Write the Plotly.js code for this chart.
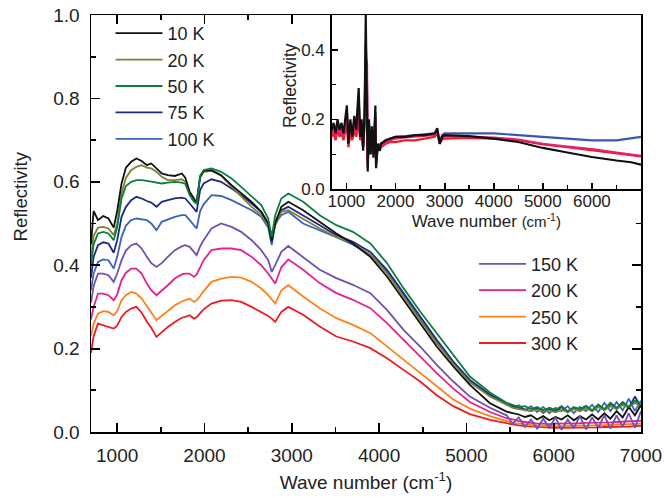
<!DOCTYPE html>
<html>
<head>
<meta charset="utf-8">
<script src="https://cdn.plot.ly/plotly-3.0.1.min.js"></script>
<style>html,body{margin:0;padding:0;background:#fff;}#chart{width:664px;height:498px;}</style>
</head>
<body>
<div id="chart"></div>
<script>
// Main panel: wave number grid (cm^-1)
const wnMain = [700, 730, 780, 840, 900, 960, 1000, 1050, 1100, 1160, 1220, 1280, 1340, 1390, 1450, 1510, 1580, 1660, 1740, 1780, 1830, 1880, 1910, 1950, 1990, 2080, 2190, 2310, 2420, 2540, 2650, 2730, 2770, 2810, 2880, 2960, 3130, 3320, 3510, 3700, 3900, 4090, 4280, 4470, 4660, 4850, 5040, 5270,
  5460, 5530, 5600, 5670, 5740, 5810, 5880, 5950, 6020, 6090, 6160, 6230, 6300, 6370, 6440, 6510, 6580, 6650, 6720, 6790, 6860, 6930, 7000];

const r10K  = [0.45, 0.53, 0.508, 0.518, 0.512, 0.49, 0.53, 0.596, 0.634, 0.648, 0.656, 0.65, 0.64, 0.644, 0.632, 0.62, 0.616, 0.614, 0.62, 0.61, 0.576, 0.56, 0.55, 0.612, 0.626, 0.628, 0.616, 0.592, 0.572, 0.552, 0.528, 0.50, 0.46, 0.50, 0.54, 0.552, 0.532, 0.504, 0.476, 0.452, 0.42, 0.373, 0.317, 0.261, 0.205, 0.157, 0.113, 0.069,
  0.049, 0.045, 0.042, 0.036, 0.04, 0.03, 0.038, 0.028, 0.036, 0.03, 0.04, 0.028, 0.038, 0.03, 0.042, 0.03, 0.045, 0.032, 0.05, 0.035, 0.06, 0.04, 0.065];
const r20K  = [0.42, 0.47, 0.49, 0.492, 0.488, 0.472, 0.50, 0.572, 0.61, 0.628, 0.636, 0.64, 0.634, 0.632, 0.624, 0.612, 0.604, 0.604, 0.606, 0.60, 0.572, 0.556, 0.552, 0.61, 0.624, 0.626, 0.615, 0.588, 0.565, 0.54, 0.52, 0.496, 0.464, 0.495, 0.528, 0.532, 0.512, 0.488, 0.468, 0.452, 0.425, 0.381, 0.325, 0.269, 0.213, 0.163, 0.119, 0.085,
  0.065, 0.058, 0.055, 0.052, 0.05, 0.054, 0.048, 0.052, 0.047, 0.053, 0.048, 0.055, 0.05, 0.057, 0.05, 0.06, 0.052, 0.062, 0.055, 0.065, 0.058, 0.07, 0.06];
const r50K  = [0.40, 0.45, 0.476, 0.48, 0.476, 0.46, 0.49, 0.56, 0.59, 0.60, 0.604, 0.604, 0.602, 0.60, 0.598, 0.596, 0.598, 0.60, 0.598, 0.595, 0.568, 0.552, 0.548, 0.615, 0.628, 0.632, 0.624, 0.608, 0.588, 0.564, 0.544, 0.512, 0.468, 0.52, 0.56, 0.572, 0.552, 0.52, 0.496, 0.48, 0.452, 0.405, 0.345, 0.289, 0.237, 0.185, 0.133, 0.095,
  0.07, 0.065, 0.06, 0.062, 0.055, 0.06, 0.052, 0.058, 0.053, 0.062, 0.05, 0.06, 0.055, 0.063, 0.052, 0.066, 0.055, 0.07, 0.058, 0.072, 0.06, 0.075, 0.065];
const r75K  = [0.37, 0.42, 0.448, 0.455, 0.452, 0.43, 0.46, 0.516, 0.54, 0.556, 0.564, 0.56, 0.554, 0.55, 0.54, 0.552, 0.556, 0.56, 0.562, 0.56, 0.548, 0.535, 0.528, 0.58, 0.596, 0.606, 0.60, 0.584, 0.568, 0.548, 0.528, 0.50, 0.456, 0.505, 0.532, 0.54, 0.52, 0.496, 0.472, 0.456, 0.432, 0.389, 0.333, 0.277, 0.221, 0.169, 0.125, 0.09,
  0.068, 0.062, 0.058, 0.055, 0.05, 0.058, 0.046, 0.055, 0.05, 0.06, 0.047, 0.058, 0.05, 0.062, 0.05, 0.065, 0.052, 0.068, 0.055, 0.07, 0.058, 0.085, 0.06];
const r100K = [0.34, 0.38, 0.408, 0.414, 0.412, 0.392, 0.42, 0.468, 0.495, 0.508, 0.512, 0.51, 0.508, 0.50, 0.484, 0.504, 0.51, 0.516, 0.52, 0.52, 0.508, 0.495, 0.488, 0.53, 0.546, 0.568, 0.566, 0.556, 0.544, 0.532, 0.516, 0.49, 0.448, 0.50, 0.52, 0.528, 0.50, 0.484, 0.467, 0.449, 0.425, 0.385, 0.329, 0.273, 0.217, 0.165, 0.121, 0.088,
  0.066, 0.06, 0.064, 0.052, 0.062, 0.048, 0.06, 0.045, 0.058, 0.05, 0.062, 0.045, 0.06, 0.05, 0.065, 0.048, 0.07, 0.05, 0.072, 0.052, 0.08, 0.05, 0.075];
const r150K = [0.31, 0.35, 0.38, 0.38, 0.376, 0.36, 0.38, 0.412, 0.435, 0.448, 0.452, 0.44, 0.42, 0.405, 0.396, 0.405, 0.42, 0.436, 0.445, 0.448, 0.444, 0.432, 0.424, 0.445, 0.46, 0.488, 0.50, 0.492, 0.48, 0.46, 0.436, 0.412, 0.384, 0.40, 0.432, 0.446, 0.42, 0.389, 0.369, 0.353, 0.333, 0.293, 0.245, 0.205, 0.161, 0.121, 0.085, 0.058,
  0.04, 0.02, 0.035, 0.012, 0.03, 0.008, 0.032, 0.01, 0.035, 0.005, 0.03, 0.01, 0.038, 0.006, 0.035, 0.01, 0.04, 0.008, 0.04, 0.012, 0.045, 0.01, 0.05];
const r200K = [0.27, 0.30, 0.332, 0.332, 0.328, 0.316, 0.33, 0.364, 0.382, 0.392, 0.392, 0.38, 0.356, 0.34, 0.328, 0.338, 0.352, 0.368, 0.378, 0.38, 0.38, 0.372, 0.378, 0.395, 0.412, 0.436, 0.44, 0.44, 0.436, 0.42, 0.40, 0.38, 0.368, 0.356, 0.395, 0.414, 0.389, 0.357, 0.333, 0.317, 0.297, 0.261, 0.221, 0.181, 0.141, 0.104, 0.072, 0.048,
  0.033, 0.03, 0.026, 0.024, 0.022, 0.02, 0.02, 0.019, 0.02, 0.02, 0.021, 0.02, 0.021, 0.022, 0.022, 0.022, 0.023, 0.023, 0.024, 0.025, 0.025, 0.026, 0.027];
const r250K = [0.23, 0.26, 0.284, 0.29, 0.288, 0.28, 0.29, 0.316, 0.328, 0.336, 0.332, 0.32, 0.302, 0.285, 0.268, 0.278, 0.29, 0.304, 0.313, 0.316, 0.32, 0.312, 0.316, 0.326, 0.338, 0.36, 0.368, 0.372, 0.37, 0.36, 0.344, 0.328, 0.318, 0.308, 0.34, 0.352, 0.325, 0.297, 0.273, 0.257, 0.237, 0.205, 0.173, 0.141, 0.109, 0.078, 0.056, 0.038,
  0.026, 0.022, 0.02, 0.018, 0.016, 0.015, 0.015, 0.014, 0.014, 0.014, 0.015, 0.015, 0.015, 0.016, 0.016, 0.016, 0.017, 0.017, 0.018, 0.018, 0.019, 0.019, 0.02];
const r300K = [0.19, 0.23, 0.26, 0.256, 0.252, 0.248, 0.255, 0.276, 0.288, 0.296, 0.30, 0.286, 0.265, 0.25, 0.228, 0.24, 0.252, 0.264, 0.274, 0.276, 0.28, 0.272, 0.275, 0.285, 0.294, 0.308, 0.315, 0.316, 0.312, 0.30, 0.288, 0.278, 0.272, 0.264, 0.288, 0.30, 0.281, 0.253, 0.229, 0.217, 0.201, 0.177, 0.149, 0.121, 0.088, 0.062, 0.043, 0.029,
  0.021, 0.018, 0.016, 0.014, 0.013, 0.012, 0.011, 0.011, 0.01, 0.01, 0.01, 0.01, 0.01, 0.011, 0.011, 0.011, 0.012, 0.012, 0.012, 0.013, 0.013, 0.014, 0.015];

const seriesNames = ['10 K', '20 K', '50 K', '75 K', '100 K', '150 K', '200 K', '250 K', '300 K'];
const seriesColors = ['#111111', '#808035', '#0a8040', '#202a80', '#3a64bc', '#7050b0', '#e8208a', '#ff8218', '#ec1c24'];

// Axis tick labels
const mainYTickVals = [0, 0.2, 0.4, 0.6, 0.8, 1.0];
const mainYTickText = ['0.0', '0.2', '0.4', '0.6', '0.8', '1.0'];
const insetXTickVals = [1000, 2000, 3000, 4000, 5000, 6000];
const insetYTickVals = [0, 0.2, 0.4];
const insetYTickText = ['0.0', '0.2', '0.4'];

// Inset panel
const wnInset = [700, 740, 780, 820, 860, 900, 940, 980, 1010, 1040, 1080, 1120, 1160, 1200, 1250, 1280, 1310, 1340, 1370, 1394, 1420, 1434, 1460, 1490, 1520, 1550, 1590, 1604, 1640, 1680, 1700, 1800, 1900, 2000, 2200, 2400, 2600, 2800, 2850, 2900, 2950, 3000, 3500, 4000, 4500, 5000, 5500, 6000, 6500, 6800, 7000];
const inset10K  = [0.17, 0.19, 0.16, 0.20, 0.17, 0.19, 0.16, 0.21, 0.24, 0.13, 0.20, 0.15, 0.21, 0.17, 0.29, 0.15, 0.20, 0.11, 0.22, 0.50, 0.12, 0.05, 0.20, 0.10, 0.18, 0.09, 0.24, 0.06, 0.13, 0.11, 0.13, 0.14, 0.145, 0.15, 0.15, 0.155, 0.155, 0.16, 0.175, 0.13, 0.15, 0.155, 0.152, 0.145, 0.135, 0.118, 0.105, 0.092, 0.082, 0.077, 0.07];
const inset200K = [0.16, 0.17, 0.15, 0.18, 0.16, 0.17, 0.15, 0.19, 0.21, 0.13, 0.18, 0.15, 0.19, 0.16, 0.24, 0.15, 0.18, 0.12, 0.20, 0.38, 0.36, 0.07, 0.18, 0.10, 0.16, 0.10, 0.21, 0.08, 0.125, 0.115, 0.125, 0.135, 0.14, 0.145, 0.148, 0.15, 0.152, 0.155, 0.165, 0.135, 0.148, 0.152, 0.15, 0.148, 0.142, 0.13, 0.122, 0.115, 0.105, 0.10, 0.095];
const inset300K = [0.15, 0.16, 0.14, 0.17, 0.15, 0.16, 0.14, 0.17, 0.19, 0.12, 0.16, 0.14, 0.17, 0.15, 0.20, 0.14, 0.16, 0.12, 0.18, 0.30, 0.28, 0.08, 0.16, 0.10, 0.15, 0.10, 0.18, 0.09, 0.12, 0.11, 0.12, 0.13, 0.135, 0.135, 0.14, 0.14, 0.145, 0.15, 0.16, 0.13, 0.142, 0.145, 0.147, 0.145, 0.14, 0.128, 0.12, 0.112, 0.102, 0.098, 0.094];
const inset100K = [0.16, 0.18, 0.15, 0.19, 0.16, 0.18, 0.15, 0.20, 0.22, 0.13, 0.19, 0.15, 0.20, 0.17, 0.26, 0.15, 0.19, 0.12, 0.21, 0.42, 0.30, 0.06, 0.19, 0.10, 0.17, 0.10, 0.22, 0.07, 0.13, 0.12, 0.13, 0.14, 0.145, 0.15, 0.152, 0.155, 0.158, 0.16, 0.17, 0.135, 0.155, 0.16, 0.16, 0.16, 0.155, 0.15, 0.145, 0.14, 0.14, 0.145, 0.15];

const FONT = 'Liberation Sans, Arial, sans-serif';
const mainTickFont = {family: FONT, size: 19, color: '#222'};
const insetTickFont = {family: FONT, size: 17, color: '#222'};

const mainData = [r10K, r20K, r50K, r75K, r100K, r150K, r200K, r250K, r300K];
const drawOrder = [8, 7, 6, 4, 3, 1, 0, 2, 5];
const traces = [];
drawOrder.forEach(i => {
  traces.push({
    x: wnMain, y: mainData[i], type: 'scatter', mode: 'lines',
    name: seriesNames[i],
    line: {color: seriesColors[i], width: 1.8},
    legend: i < 5 ? 'legend' : 'legend2',
    legendrank: i,
    xaxis: 'x', yaxis: 'y'
  });
});
const insetSets = [[inset100K, '#3a58b0'], [inset300K, '#ec1c24'], [inset200K, '#e8206e'], [inset10K, '#111111']];
insetSets.forEach(s => {
  traces.push({x: wnInset, y: s[0], type: 'scatter', mode: 'lines', showlegend: false,
    line: {color: s[1], width: 2.2}, xaxis: 'x2', yaxis: 'y2'});
});

const axisCommon = {
  showline: true, linecolor: '#000', linewidth: 1.5, showgrid: false, zeroline: false,
  ticks: 'inside', tickcolor: '#000', tickwidth: 1.8
};

const layout = {
  width: 664, height: 498,
  margin: {l: 91, r: 23, t: 15, b: 66},
  paper_bgcolor: '#fff', plot_bgcolor: '#fff',
  font: {family: FONT, color: '#222'},
  xaxis: Object.assign({}, axisCommon, {
    range: [700, 7000], domain: [0, 1], anchor: 'y', mirror: 'allticks',
    tick0: 0, dtick: 1000, ticklen: 9, tickfont: mainTickFont, ticklabelstandoff: 6,
    minor: {ticks: 'inside', dtick: 500, tick0: 0, ticklen: 5, tickcolor: '#000', tickwidth: 1.6},
    title: {text: 'Wave number (cm<sup>-1</sup>)', font: {size: 19}, standoff: 10}
  }),
  yaxis: Object.assign({}, axisCommon, {
    range: [0, 1.0], domain: [0, 1], anchor: 'x', mirror: 'allticks',
    tickmode: 'array', tickvals: mainYTickVals, ticktext: mainYTickText, ticklen: 9, tickfont: mainTickFont, ticklabelstandoff: 6,
    minor: {ticks: 'inside', dtick: 0.1, tick0: 0, ticklen: 5, tickcolor: '#000', tickwidth: 1.6}
  }),
  xaxis2: Object.assign({}, axisCommon, {
    range: [700, 7000], domain: [0.4376, 1], anchor: 'y2', mirror: true,
    tickmode: 'array', tickvals: insetXTickVals, ticklen: 6, tickfont: insetTickFont, ticklabelstandoff: -4,
    minor: {ticks: 'inside', dtick: 500, tick0: 0, ticklen: 4, tickcolor: '#000', tickwidth: 1.4},
    title: {text: 'Wave number <span style="font-size:15px">(cm<sup>-1</sup>)</span>', font: {size: 17}, standoff: 0}
  }),
  yaxis2: Object.assign({}, axisCommon, {
    range: [0, 0.5], domain: [0.5827, 1], anchor: 'x2', mirror: true,
    tickmode: 'array', tickvals: insetYTickVals, ticktext: insetYTickText, ticklen: 6, tickfont: insetTickFont, ticklabelstandoff: 2,
    minor: {ticks: 'inside', dtick: 0.1, tick0: 0, ticklen: 4, tickcolor: '#000', tickwidth: 1.4}
  }),
  legend: {
    x: 0.0355, y: 1.0, xanchor: 'left', yanchor: 'top', bgcolor: 'rgba(0,0,0,0)',
    font: {size: 18, color: '#222'}, itemwidth: 47, traceorder: 'normal'
  },
  legend2: {
    x: 0.6964, y: 0.447, xanchor: 'left', yanchor: 'top', bgcolor: 'rgba(0,0,0,0)',
    font: {size: 18, color: '#222'}, itemwidth: 47, traceorder: 'normal'
  },
  annotations: [
    {text: 'Reflectivity', xref: 'paper', yref: 'paper', x: -0.129, y: 0.565, textangle: -90,
     showarrow: false, xanchor: 'center', yanchor: 'middle', font: {size: 18.5, color: '#222'}},
    {text: 'Reflectivity', xref: 'paper', yref: 'paper', x: 0.362, y: 0.83, textangle: -90,
     showarrow: false, xanchor: 'center', yanchor: 'middle', font: {size: 17.5, color: '#222'}}
  ],
  showlegend: true
};

Plotly.newPlot('chart', traces, layout, {displayModeBar: false, staticPlot: true});
</script>
</body>
</html>
